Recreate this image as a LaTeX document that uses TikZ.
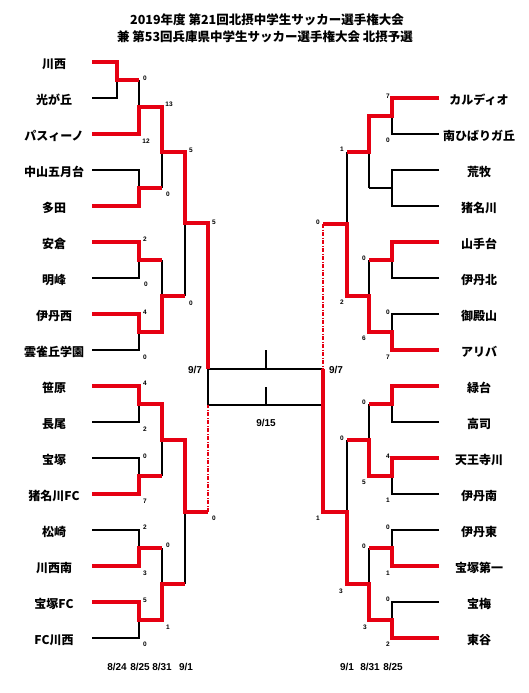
\documentclass[tikz,border=0pt]{standalone}
\usepackage{fontspec}
\setmainfont{Noto Sans CJK JP}
\newfontfamily\numfont{Liberation Sans}
\definecolor{wred}{RGB}{230,0,18}
\begin{document}
\begin{tikzpicture}[x=1pt,y=-1pt,
  blk/.style={line width=1.8pt, line join=miter},
  win/.style={wred, line width=3.4pt, line join=miter},
  dd/.style={wred, line width=2pt, dash pattern=on 4pt off 1.5pt on 1pt off 1.5pt},
  team/.style={font=\fontsize{12}{12}\selectfont\bfseries, inner sep=0pt},
  ttl/.style={font=\fontsize{12.5}{12.5}\selectfont\bfseries, inner sep=0pt},
  sc/.style={font=\numfont\fontsize{6.5}{6.5}\selectfont\bfseries, inner sep=0pt},
  dt/.style={font=\numfont\fontsize{10}{10}\selectfont\bfseries, inner sep=0pt}]
\useasboundingbox (0,0) rectangle (528,693);
\fill[white] (0,0) rectangle (528,693);
% title
\node[ttl] (t1) at (267,20) {2019年度 第21回北摂中学生サッカー選手権大会};
\node[ttl] (t2) at (265,37) {兼 第53回兵庫県中学生サッカー選手権大会 北摂予選};
% teams
\foreach \t [count=\k from 0] in {川西,光が丘,パスィーノ,中山五月台,多田,安倉,明峰,伊丹西,雲雀丘学園,笹原,長尾,宝塚,猪名川FC,松崎,川西南,宝塚FC,FC川西}
  \node[team] (L\k) at (54,{64+36*\k}) {\t};
\foreach \t [count=\k from 0] in {カルディオ,南ひばりガ丘,荒牧,猪名川,山手台,伊丹北,御殿山,アリバ,緑台,高司,天王寺川,伊丹南,伊丹東,宝塚第一,宝梅,東谷}
  \node[team] (R\k) at (479,{100+36*\k}) {\t};
% black lines left
\draw[blk] (92,98)--(117,98)--(117,80);
\draw[blk] (139,80)--(139,107);
\draw[blk] (92,170)--(139,170)--(139,188);
\draw[blk] (162,152)--(162,188);
\draw[blk] (92,278)--(139,278)--(139,260);
\draw[blk] (92,350)--(139,350)--(139,332);
\draw[blk] (162,260)--(162,296);
\draw[blk] (185,223)--(185,296);
\draw[blk] (92,422)--(139,422)--(139,404);
\draw[blk] (92,458)--(139,458)--(139,476);
\draw[blk] (162,440)--(162,476);
\draw[blk] (92,530)--(139,530)--(139,548);
\draw[blk] (92,638)--(139,638)--(139,620);
\draw[blk] (162,548)--(162,584);
\draw[blk] (185,512)--(185,584);
\draw[blk] (208,369)--(208,405);
% center
\draw[line width=1.6pt] (208,369)--(323,369);
\draw[line width=1.6pt] (266,369)--(266,350);
\draw[line width=1.1pt] (208,405)--(323,405);
\draw[line width=1.1pt] (266,405)--(266,387);
% black lines right
\draw[blk] (439,134)--(392,134)--(392,116);
\draw[blk] (439,170)--(392,170)--(392,206)--(439,206);
\draw[blk] (392,188)--(369,188);
\draw[blk] (369,152)--(369,188);
\draw[blk] (347,152)--(347,224);
\draw[blk] (439,278)--(392,278)--(392,260);
\draw[blk] (439,314)--(392,314)--(392,332);
\draw[blk] (369,260)--(369,296);
\draw[blk] (439,422)--(392,422)--(392,404);
\draw[blk] (439,494)--(392,494)--(392,476);
\draw[blk] (369,404)--(369,440);
\draw[blk] (347,440)--(347,512);
\draw[blk] (439,530)--(392,530)--(392,548);
\draw[blk] (439,602)--(392,602)--(392,620);
\draw[blk] (369,548)--(369,584);
% red left
\draw[win] (92,62)--(117,62)--(117,80)--(139,80);
\draw[win] (92,134)--(139,134)--(139,107)--(162,107)--(162,152)--(185,152)--(185,223)--(208,223)--(208,369);
\draw[win] (92,206)--(139,206)--(139,188)--(162,188);
\draw[win] (92,242)--(139,242)--(139,260)--(162,260);
\draw[win] (92,314)--(139,314)--(139,332)--(162,332)--(162,296)--(185,296);
\draw[win] (92,386)--(139,386)--(139,404)--(162,404)--(162,440)--(185,440)--(185,512)--(208,512);
\draw[dd] (208,512)--(208,405);
\draw[win] (92,494)--(139,494)--(139,476)--(162,476);
\draw[win] (92,566)--(139,566)--(139,548)--(162,548);
\draw[win] (92,602)--(139,602)--(139,620)--(162,620)--(162,584)--(185,584);
% red right
\draw[win] (439,98)--(392,98)--(392,116)--(369,116)--(369,152)--(347,152);
\draw[win] (439,242)--(392,242)--(392,260)--(369,260);
\draw[win] (439,350)--(392,350)--(392,332)--(369,332)--(369,296)--(347,296)--(347,224)--(323,224);
\draw[dd] (323,224)--(323,369);
\draw[win] (439,386)--(392,386)--(392,404)--(369,404);
\draw[win] (439,458)--(392,458)--(392,476)--(369,476)--(369,440)--(347,440);
\draw[win] (439,566)--(392,566)--(392,548)--(369,548);
\draw[win] (439,638)--(392,638)--(392,620)--(369,620)--(369,584)--(347,584)--(347,512)--(323,512)--(323,369);
% scores
\foreach \x/\y/\s [count=\i] in {145/78/0,146/141/12,169/104/13,168/194/0,191/150/5,191/303/0,214/222/5,214/518/0,145/239/2,146/284/0,145/312/4,145/357/0,145/383/4,145/429/2,145/456/0,145/501/7,145/527/2,145/573/3,168/545/0,145/600/5,145/644/0,168/627/1}
  \node[sc] (sl\i) at (\x,\y) {\s};
\foreach \x/\y/\s [count=\i] in {388/96/7,388/140/0,342/149/1,342/302/2,318/222/0,318/518/1,364/258/0,388/312/0,388/357/7,364/338/6,364/402/0,342/438/0,388/456/4,388/500/1,364/482/5,388/527/0,388/573/1,364/546/0,388/599/0,388/644/2,365/627/3,341/591/3}
  \node[sc] (sr\i) at (\x,\y) {\s};
% dates
\node[dt] (d97l) at (195,370) {9/7};
\node[dt] (d97r) at (336,370) {9/7};
\node[dt] (d915) at (266,423) {9/15};
\node[dt] (a1) at (117,667) {8/24};
\node[dt] (a2) at (140,667) {8/25};
\node[dt] (a3) at (162,667) {8/31};
\node[dt] (a4) at (186,667) {9/1};
\node[dt] (b1) at (347,667) {9/1};
\node[dt] (b2) at (370,667) {8/31};
\node[dt] (b3) at (393,667) {8/25};
\end{tikzpicture}
\end{document}
